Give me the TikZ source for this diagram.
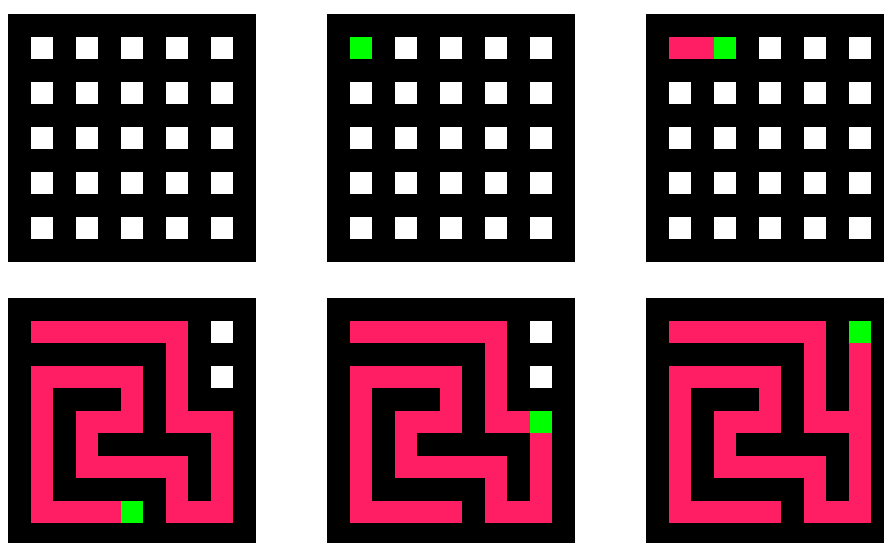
\documentclass[tikz,border=0pt]{standalone}
\usepackage{xcolor}
\definecolor{colTrail}{RGB}{255,30,99}
\definecolor{colHead}{RGB}{0,255,0}
\usepackage{tikz}
\usetikzlibrary{positioning}

\tikzset{
  wall/.style={fill=black},
  cellbox/.style={fill=white},
  trail/.style={fill=colTrail},
  head/.style={fill=colHead},
  panel/.style={x=22.545pt, y=-22.545pt},
}

% white cells of the 5x5 grid (unit coordinates, y down)
\newcommand{\cellgrid}{%
  \foreach \c in {1,3,5,7,9}
    \foreach \r in {1,3,5,7,9}
      \fill[cellbox] (\c,\r) rectangle ++(1,1);%
}
% carved corridors up to the dead end at the bottom
\newcommand{\mazetrail}{%
  \fill[trail] (1,1) rectangle (8,2);
  \fill[trail] (7,1) rectangle (8,6);
  \fill[trail] (7,5) rectangle (10,6);
  \fill[trail] (9,5) rectangle (10,10);
  \fill[trail] (7,9) rectangle (10,10);
  \fill[trail] (7,7) rectangle (8,10);
  \fill[trail] (3,7) rectangle (8,8);
  \fill[trail] (3,5) rectangle (4,8);
  \fill[trail] (3,5) rectangle (6,6);
  \fill[trail] (5,3) rectangle (6,6);
  \fill[trail] (1,3) rectangle (6,4);
  \fill[trail] (1,3) rectangle (2,10);
  \fill[trail] (1,9) rectangle (6,10);%
}

\begin{document}
\begin{tikzpicture}[x=1pt, y=-1pt]
  \useasboundingbox (0,0) rectangle (884,543);
  \clip (0,0) rectangle (884,543);

  % empty grid
  \begin{scope}[xshift=8pt, yshift=-14pt, panel]
    \fill[wall] (0,0) rectangle (11,11);
    \cellgrid
  \end{scope}

  % start cell
  \begin{scope}[xshift=327pt, yshift=-14pt, panel]
    \fill[wall] (0,0) rectangle (11,11);
    \cellgrid
    \fill[head] (1,1) rectangle (2,2);
  \end{scope}

  % first step
  \begin{scope}[xshift=646pt, yshift=-14pt, panel]
    \fill[wall] (0,0) rectangle (11,11);
    \cellgrid
    \fill[trail] (1,1) rectangle (3,2);
    \fill[head] (3,1) rectangle (4,2);
  \end{scope}

  % dead end
  \begin{scope}[xshift=8pt, yshift=-298pt, panel]
    \fill[wall] (0,0) rectangle (11,11);
    \cellgrid
    \mazetrail
    \fill[head] (5,9) rectangle (6,10);
  \end{scope}

  % back at the branch
  \begin{scope}[xshift=327pt, yshift=-298pt, panel]
    \fill[wall] (0,0) rectangle (11,11);
    \cellgrid
    \mazetrail
    \fill[head] (9,5) rectangle (10,6);
  \end{scope}

  % finished maze
  \begin{scope}[xshift=646pt, yshift=-298pt, panel]
    \fill[wall] (0,0) rectangle (11,11);
    \mazetrail
    \fill[trail] (9,1) rectangle (10,6);
    \fill[head] (9,1) rectangle (10,2);
  \end{scope}
\end{tikzpicture}
\end{document}
